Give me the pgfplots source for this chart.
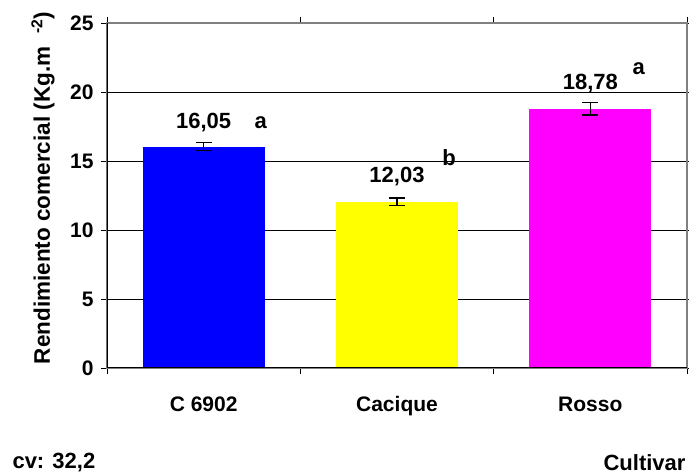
\documentclass[border=0pt]{standalone}
\usepackage{fontspec}
\setmainfont{Liberation Sans}
\usepackage{pgfplots}
\pgfplotsset{compat=1.18}
\begin{document}
\begin{tikzpicture}
\path[use as bounding box] (-107pt,-106pt) rectangle (582pt,368pt);
\begin{axis}[at={(0,0)}, anchor=south west, scale only axis,
  width=580pt, height=345pt,
  xmin=-0.5, xmax=2.5, ymin=0, ymax=25,
  ytick={0,5,10,15,20,25},
  xtick={-0.5,0.5,1.5,2.5}, xticklabels={},
  extra x ticks={0,1,2}, extra x tick labels={C 6902,Cacique,Rosso},
  extra x tick style={major tick length=0pt, grid=none},
  tick align=outside, major tick length=6pt,
  tick style={black, line width=0.8pt},
  ymajorgrids, grid style={black, line width=0.8pt},
  axis line style={draw=gray, line width=1.2pt},
  /pgf/number format/assume math mode=true,
  tick label style={font=\bfseries\fontsize{21}{24}\selectfont},
  yticklabel style={xshift=-4pt},
  xticklabel style={anchor=base, yshift=-43pt},
]
\addplot[ybar, fill={rgb,255:red,0;green,0;blue,255}, draw=none, bar width=0.63, bar shift=0pt,
  error bars/.cd, y dir=both, y explicit,
  error bar style={draw=black, line width=1.3pt},
  error mark options={draw=black, rotate=90, mark size=8pt, line width=1.3pt}]
  coordinates {(0,16.05) +- (0,0.31)};
\addplot[ybar, fill={rgb,255:red,255;green,255;blue,0}, draw=none, bar width=0.63, bar shift=0pt,
  error bars/.cd, y dir=both, y explicit,
  error bar style={draw=black, line width=1.3pt},
  error mark options={draw=black, rotate=90, mark size=8pt, line width=1.3pt}]
  coordinates {(1,12.03) +- (0,0.28)};
\addplot[ybar, fill={rgb,255:red,255;green,0;blue,255}, draw=none, bar width=0.63, bar shift=0pt,
  error bars/.cd, y dir=both, y explicit,
  error bar style={draw=black, line width=1.3pt},
  error mark options={draw=black, rotate=90, mark size=8pt, line width=1.3pt}]
  coordinates {(2,18.78) +- (0,0.45)};
\draw[black, line width=1.2pt] (rel axis cs:0,1) -- (rel axis cs:0,0) -- (rel axis cs:1,0);
\begin{scope}[every node/.style={font=\bfseries\fontsize{22}{24}\selectfont}]
\node at (axis cs:0,17.8) {16,05};
\node at (axis cs:0.295,17.8) {a};
\node at (axis cs:1,13.85) {12,03};
\node at (axis cs:1.27,15.25) {b};
\node at (axis cs:2,20.65) {18,78};
\node at (axis cs:2.25,21.7) {a};
\end{scope}
\end{axis}
\node[rotate=90, font=\bfseries\fontsize{22.5}{24}\selectfont] at (-64pt,180pt) {Rendimiento comercial (Kg.m\ \ \textsuperscript{-2})};
\node[anchor=west, font=\bfseries\fontsize{22}{24}\selectfont] at (-98pt,-95pt) {cv: 32,2};
\node[anchor=east, font=\bfseries\fontsize{22}{24}\selectfont] at (582pt,-95pt) {Cultivar};
\end{tikzpicture}
\end{document}
